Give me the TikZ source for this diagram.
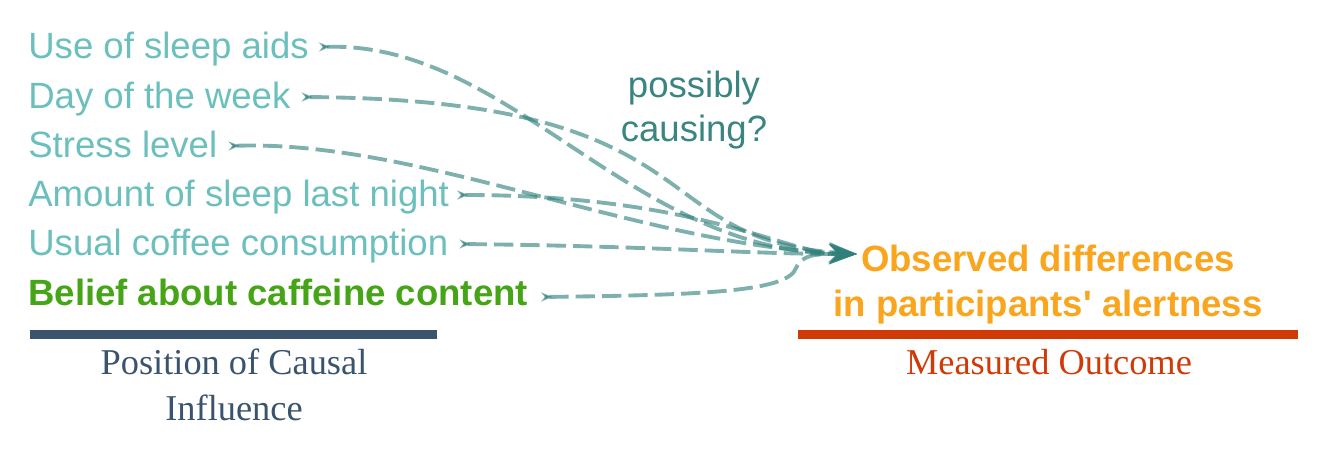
\documentclass[tikz,border=0pt]{standalone}
\usepackage{fontspec}
\setmainfont{Liberation Sans}[Ligatures=TeXOff]
\newfontfamily\serifface{Liberation Serif}
\usetikzlibrary{arrows.meta}
\definecolor{labc}{HTML}{6BBFBC}
\definecolor{beliefc}{HTML}{45A516}
\definecolor{outc}{HTML}{F9A51D}
\definecolor{linkc}{HTML}{2F7F7B}
\definecolor{qc}{HTML}{3A8580}
\definecolor{barl}{HTML}{3A546E}
\definecolor{barr}{HTML}{D03A06}
\begin{document}
\begin{tikzpicture}[x=0.02cm,y=-0.02cm,
  lab/.style={inner sep=0pt, anchor=base west, text=labc, font=\fontsize{20.8pt}{24pt}\selectfont},
  outtxt/.style={inner sep=0pt, anchor=base, text=outc, font=\fontsize{20.8pt}{24pt}\selectfont\bfseries},
  captxt/.style={inner sep=0pt, anchor=base, font=\fontsize{20.7pt}{24pt}\selectfont\serifface},
  link/.style={draw=linkc, draw opacity=0.62, fill opacity=0.75, line width=2.2pt,
    dash pattern=on 11pt off 4pt,
    {Stealth[reversed,length=0.22cm,width=0.18cm]}-{Stealth[length=0.56cm,width=0.4cm]}},
  bar/.style={line width=0.17cm}
]
\useasboundingbox (0,0) rectangle (1335,450);

% left labels
\node[lab] (use) at (28,58) {Use of sleep aids};
\node[lab] (day) at (28,108) {Day of the week};
\node[lab] (stress) at (28,157) {Stress level};
\node[lab] (amount) at (28,206) {Amount of sleep last night};
\node[lab] (usual) at (28,255) {Usual coffee consumption};
\node[lab, text=beliefc, font=\fontsize{20.8pt}{24pt}\selectfont\bfseries] (belief) at (28,305) {Belief about caffeine content};

% outcome
\node[outtxt] (obs) at (1048,271) {Observed differences};
\node[outtxt] (obs2) at (1048,316) {in participants' alertness};

% question
\node[text=qc, align=center, inner sep=0pt, font=\fontsize{20.8pt}{25.5pt}\selectfont] (q) at (694,110) {possibly\\causing?};

% connector ends
\coordinate (us) at ([shift={(10,-11)}]use.base east);
\coordinate (ds) at ([shift={(11,-11)}]day.base east);
\coordinate (ss) at ([shift={(11,-11)}]stress.base east);
\coordinate (as) at ([shift={(8,-11)}]amount.base east);
\coordinate (cs) at ([shift={(11,-11)}]usual.base east);
\coordinate (bs) at ([shift={(13,-8)}]belief.base east);
\coordinate (hub) at (857,254);

% connectors
\draw[link] (us) .. controls (510,42) and (630,252) .. (hub);
\draw[link] (ds) .. controls (720,100) and (640,240) .. (hub);
\draw[link] (ss) .. controls (420,140) and (640,245) .. (hub);
\draw[link] (as) .. controls (700,195) and (790,255) .. (hub);
\draw[link] (cs) .. controls (650,246) and (750,254) .. (hub);
\draw[link] (bs) .. controls (700,295) and (788,292) .. (796,268) .. controls (803,254) and (815,254) .. (hub);

% bars and captions
\coordinate (bl1) at (30,334.5);
\coordinate (bl2) at (437,334.5);
\coordinate (br1) at (798,334.5);
\coordinate (br2) at (1298,334.5);
\draw[bar, barl] (bl1) -- (bl2);
\draw[bar, barr] (br1) -- (br2);
\node[captxt, text=barl] (pos1) at (234,374) {Position of Causal};
\node[captxt, text=barl] (pos2) at (234,420) {Influence};
\node[captxt, text=barr] (meas) at (1049,374) {Measured Outcome};
\end{tikzpicture}
\end{document}
